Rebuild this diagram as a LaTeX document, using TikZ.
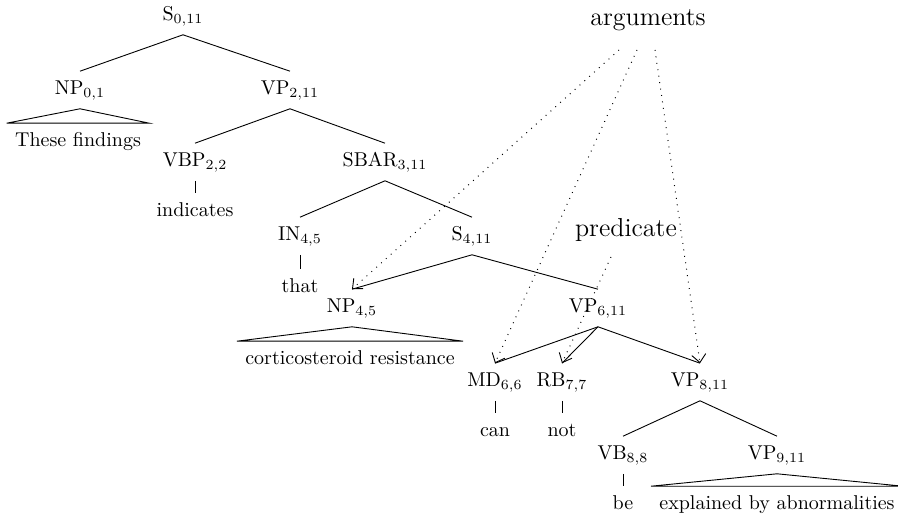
\documentclass[tikz,border=0pt]{standalone}
\usetikzlibrary{arrows.meta}
\begin{document}
\begin{tikzpicture}[x=0.5pt,y=-0.5pt,
  lbl/.style={inner xsep=1pt, inner ysep=4.45pt, text height=7pt, text depth=2.5pt},
  leaf/.style={lbl, inner xsep=4pt},
  tedge/.style={draw, line width=0.45pt},
  argarrow/.style={dash pattern=on 0.45pt off 2.8pt, line width=0.5pt,
    -{Straight Barb[length=4pt,width=7pt,line width=0.45pt]}},
  big/.style={font=\fontsize{13}{15}\selectfont, inner sep=0pt}]
\useasboundingbox (0,0) rectangle (898,517);
% nodes
\node[lbl] (S0) at (183,16) {S$_{0,11}$};
\node[lbl] (NP01) at (80,90) {NP$_{0,1}$};
\node[leaf] (L1) at (78,142) {These findings};
\node[lbl] (VP211) at (290,90) {VP$_{2,11}$};
\node[lbl] (VBP) at (195,162) {VBP$_{2,2}$};
\node[lbl] (indicates) at (195,212) {indicates};
\node[lbl] (SBAR) at (385,162) {SBAR$_{3,11}$};
\node[lbl] (IN) at (300,236) {IN$_{4,5}$};
\node[lbl] (that) at (300,288) {that};
\node[lbl] (S411) at (472,236) {S$_{4,11}$};
\node[lbl] (NP45) at (352,308) {NP$_{4,5}$};
\node[leaf] (L2) at (350,360) {corticosteroid resistance};
\node[lbl] (VP611) at (598,308) {VP$_{6,11}$};
\node[lbl] (MD) at (495,382) {MD$_{6,6}$};
\node[lbl] (can) at (495,432) {can};
\node[lbl] (RB) at (562,382) {RB$_{7,7}$};
\node[lbl] (not) at (562,432) {not};
\node[lbl] (VP811) at (700,382) {VP$_{8,11}$};
\node[lbl] (VB) at (623,455) {VB$_{8,8}$};
\node[lbl] (be) at (623,505) {be};
\node[lbl] (VP911) at (777,455) {VP$_{9,11}$};
\node[leaf] (L3) at (777,505) {explained by abnormalities};
\node[big] (arguments) at (648,20) {arguments};
\node[big] (predicate) at (626,230) {predicate};
\coordinate (a1) at (619,50);
\coordinate (a2) at (637,50);
\coordinate (a3) at (655,50);
\coordinate (p1) at (611,257);
% tree edges
\draw[tedge] (S0.south) -- (NP01.north);
\draw[tedge] (S0.south) -- (VP211.north);
\draw[tedge] (NP01.south) -- (L1.north west) -- (L1.north east) -- cycle;
\draw[tedge] (VP211.south) -- (VBP.north);
\draw[tedge] (VP211.south) -- (SBAR.north);
\draw[tedge] (VBP.south) -- (indicates.north);
\draw[tedge] (SBAR.south) -- (IN.north);
\draw[tedge] (SBAR.south) -- (S411.north);
\draw[tedge] (IN.south) -- (that.north);
\draw[tedge] (S411.south) -- (NP45.north);
\draw[tedge] (S411.south) -- (VP611.north);
\draw[tedge] (NP45.south) -- (L2.north west) -- (L2.north east) -- cycle;
\draw[tedge] (VP611.south) -- (MD.north);
\draw[tedge] (VP611.south) -- (RB.north);
\draw[tedge] (VP611.south) -- (VP811.north);
\draw[tedge] (MD.south) -- (can.north);
\draw[tedge] (RB.south) -- (not.north);
\draw[tedge] (VP811.south) -- (VB.north);
\draw[tedge] (VP811.south) -- (VP911.north);
\draw[tedge] (VB.south) -- (be.north);
\draw[tedge] (VP911.south) -- (L3.north west) -- (L3.north east) -- cycle;
% argument arrows
\draw[argarrow] (a1) -- (NP45.north);
\draw[argarrow] (a2) -- (MD.north);
\draw[argarrow] (a3) -- (VP811.north);
\draw[argarrow] (p1) -- (RB.north);
\end{tikzpicture}
\end{document}
